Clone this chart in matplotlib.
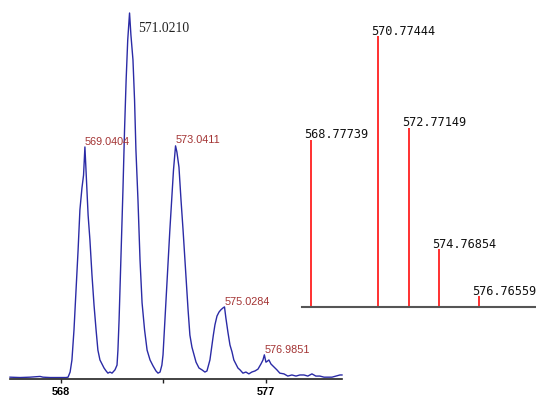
import matplotlib
matplotlib.use('Agg')
from matplotlib import pyplot as plt

spec_mz = [565.76, 566.20, 566.64, 567.08, 567.21, 567.52, 567.96, 568.22,
           568.31, 568.40, 568.48, 568.57, 568.66, 568.75, 568.83, 568.92, 568.99, 569.05,
           569.12, 569.19, 569.27, 569.36, 569.45, 569.54, 569.62, 569.71, 569.80, 569.89,
           569.98, 570.06, 570.15, 570.24, 570.37, 570.46,
           570.50, 570.55, 570.59, 570.66, 570.72, 570.79, 570.86, 570.93, 571.01,
           571.07, 571.16, 571.23, 571.29, 571.38, 571.47, 571.56, 571.67, 571.78, 571.91,
           572.04, 572.17, 572.26, 572.35, 572.43,
           572.48, 572.54, 572.61, 572.70, 572.78, 572.87, 572.94, 573.03, 573.09, 573.18,
           573.27, 573.36, 573.47, 573.58, 573.66, 573.75, 573.84, 573.93, 574.06, 574.19,
           574.32, 574.41,
           574.54, 574.63, 574.69, 574.76, 574.85, 574.94, 575.02, 575.11, 575.18, 575.24,
           575.33, 575.42, 575.51, 575.59, 575.68, 575.77, 575.86, 575.99, 576.12, 576.25,
           576.38, 576.52, 576.65, 576.78, 576.87, 576.93, 577.00, 577.07, 577.13, 577.22,
           577.35, 577.48, 577.61, 577.79, 577.96, 578.14, 578.32, 578.49, 578.67, 578.84,
           579.02, 579.19, 579.37, 579.55, 579.72, 579.90, 580.07, 580.25, 580.34]
spec_int = [0.5, 0.4, 0.5, 0.7, 0.5, 0.4, 0.4, 0.4,
            0.5, 1.9, 5.2, 13.4, 24.3, 35.2, 46.2, 52.2, 55.7, 63.4,
            54.4, 44.8, 38.0, 28.4, 20.2, 13.4, 7.9, 5.2, 4.1, 3.0,
            2.2, 1.6, 1.9, 1.6, 2.5, 3.8,
            7.9, 16.1, 24.3, 38.0, 51.6, 68.0, 81.7, 92.6, 100.0,
            94.0, 87.2, 76.2, 62.6, 48.9, 32.5, 20.8, 13.4, 7.9, 5.2,
            3.6, 2.2, 1.6, 1.9, 3.8,
            6.6, 13.4, 21.6, 31.7, 40.7, 49.7, 57.1, 63.7, 62.0, 57.9,
            48.9, 40.7, 29.8, 18.9, 12.0, 8.7, 6.6, 4.6, 3.0, 2.5,
            1.9, 2.2,
            5.2, 9.3, 12.0, 14.8, 17.2, 18.3, 18.9, 19.4, 19.7, 16.7,
            12.8, 9.3, 7.4, 5.2, 4.1, 3.0, 2.5, 1.6, 1.9, 1.4,
            1.9, 2.2, 2.7, 4.1, 5.2, 6.6, 4.6, 4.9, 5.2, 4.1,
            3.3, 2.5, 1.6, 1.4, 0.8, 1.1, 0.8, 1.1, 1.1, 0.8,
            1.4, 0.8, 0.8, 0.5, 0.5, 0.5, 0.8, 1.1, 1.1]

peak_mz = [569.0404, 571.0210, 573.0411, 575.0284, 576.9851]
peak_int = [63.4, 100.0, 63.7, 19.7, 6.6]
peak_labels = ['569.0404', '571.0210', '573.0411', '575.0284', '576.9851']

# calculated isotope pattern (right), sticks as drawn (uneven spacing)
stick_pos = [568.78, 571.97, 573.43, 574.87, 576.79]
stick_int = [61.6, 100.0, 66.1, 21.1, 3.9]
stick_labels = ['568.77739', '570.77444', '572.77149', '574.76854', '576.76559']

x_ticks = [568, 572.5, 577]
x_tick_labels = ['568', '', '577']

W, H = 536, 396
fig = plt.figure(figsize=(W / 100, H / 100), dpi=100)

ax1 = fig.add_axes([10 / W, (H - 379) / H, 332 / W, (379 - 13) / H])
ax1.set_facecolor('none')
ax1.plot(spec_mz, spec_int, color='#2b2ba6', lw=1.0, clip_on=False)
ax1.set_xlim(565.76, 580.34)
ax1.set_ylim(0, 100)
for s in ['left', 'top', 'right']:
    ax1.spines[s].set_visible(False)
ax1.spines['bottom'].set_color('#222222')
ax1.spines['bottom'].set_linewidth(1.2)
ax1.set_yticks([])
ax1.set_xticks(x_ticks)
ax1.set_xticklabels(x_tick_labels, fontweight='bold', fontsize=7.8,
                    family=['Liberation Sans', 'DejaVu Sans'])
ax1.tick_params(axis='x', length=3, width=1, pad=2.5, color='#222222')

offsets = [(0, 1.4), (5.8, -13.7), (-0.4, 2.2), (2.9, 1.4), (-0.5, 1.4)]
for i, (mz, inten, lab) in enumerate(zip(peak_mz, peak_int, peak_labels)):
    if i == 1:
        ax1.annotate(lab, (mz, inten), xytext=offsets[i], textcoords='offset points',
                     ha='left', va='baseline', fontsize=9.8, color='#222222',
                     family=['Liberation Serif', 'DejaVu Serif'])
    else:
        ax1.annotate(lab, (mz, inten), xytext=offsets[i], textcoords='offset points',
                     ha='left', va='baseline', fontsize=7.8, color='#a33333',
                     family=['Liberation Sans', 'DejaVu Sans'])

ax2 = fig.add_axes([302 / W, (H - 306.5) / H, 234 / W, (306.5 - 36) / H])
ax2.set_facecolor('none')
ax2.vlines(stick_pos, 0, stick_int, color='#ff2020', lw=1.3)
ax2.set_xlim(568.35, 579.49)
ax2.set_ylim(0, 100)
for s in ['left', 'top', 'right']:
    ax2.spines[s].set_visible(False)
ax2.spines['bottom'].set_color('#555555')
ax2.spines['bottom'].set_linewidth(1.5)
ax2.set_xticks([])
ax2.set_yticks([])
for x, inten, lab in zip(stick_pos, stick_int, stick_labels):
    ax2.annotate(lab, (x, inten), xytext=(-5, 1), textcoords='offset points',
                 ha='left', va='baseline', fontsize=8.6, color='#111111',
                 family=['DejaVu Sans Mono'])

fig.savefig('out.png', dpi=100)
